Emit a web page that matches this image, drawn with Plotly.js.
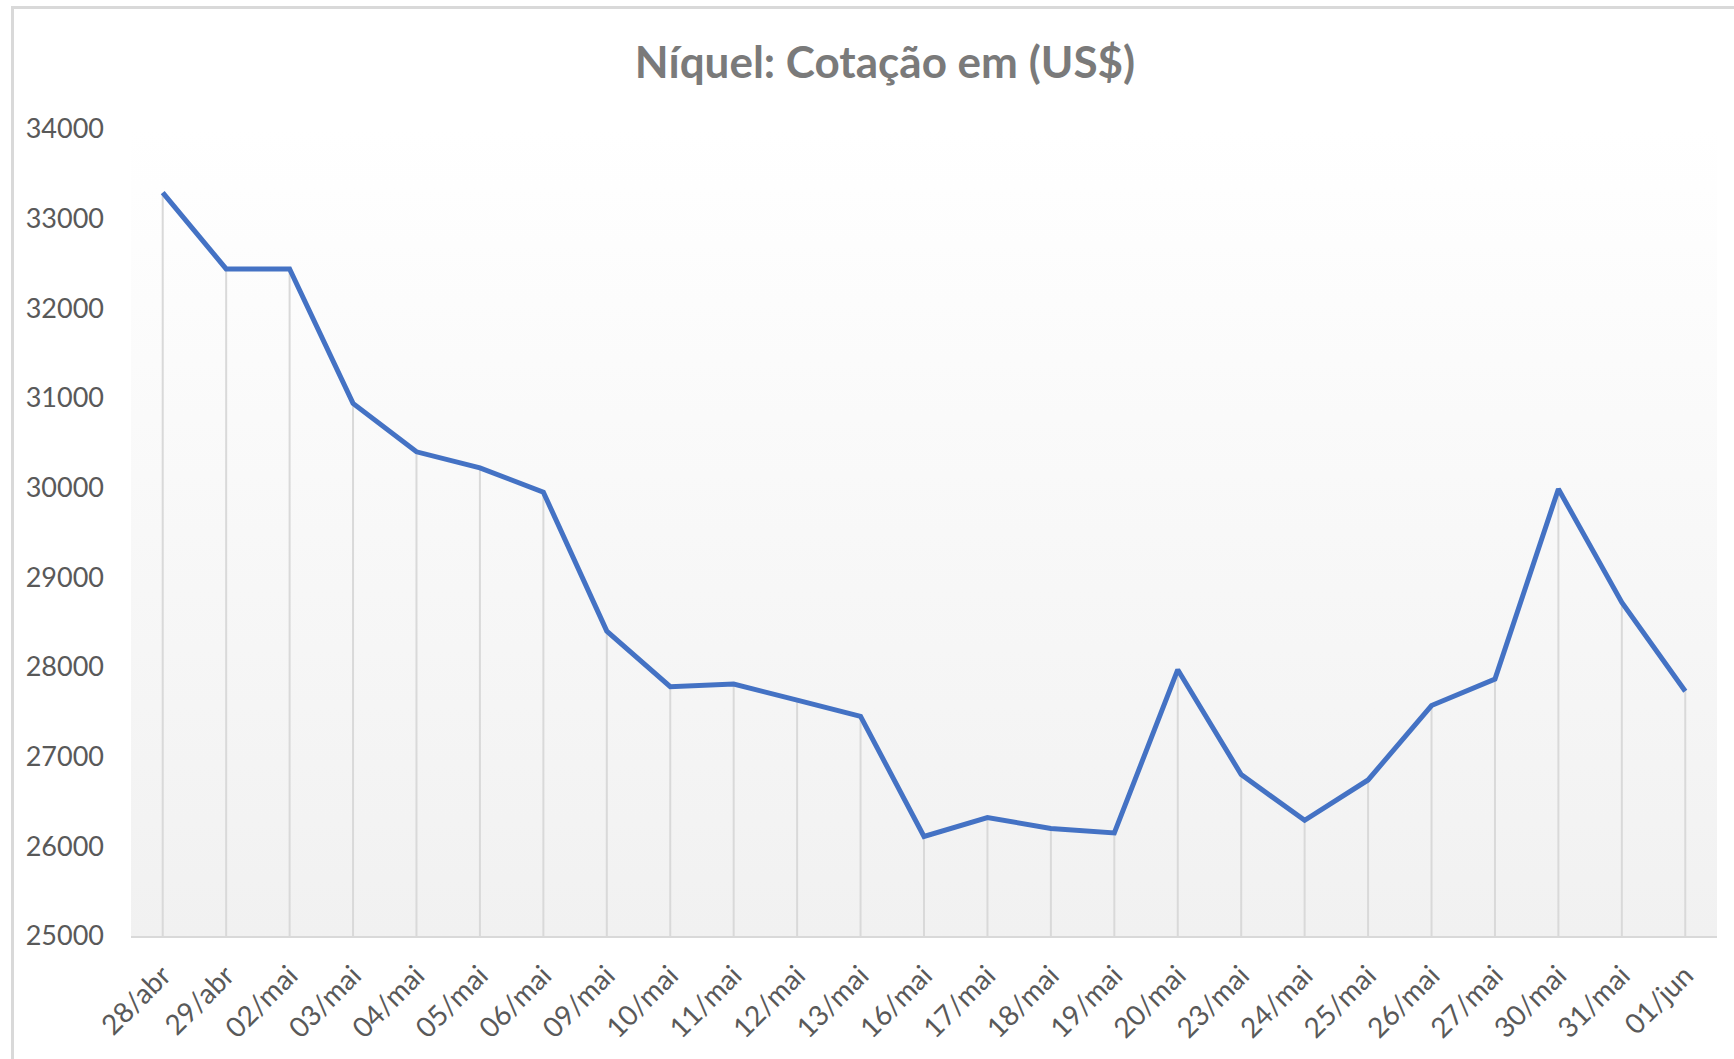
<!DOCTYPE html>
<html>
<head>
<meta charset="utf-8">
<script src="https://cdn.plot.ly/plotly-3.0.1.min.js"></script>
<style>
  html, body { margin: 0; padding: 0; background: #ffffff; overflow: hidden; }
  #chart { position: absolute; left: 0; top: 0; width: 1734px; height: 1059px; }
  .frame-left { position: absolute; left: 11px; top: 6px; width: 3px; height: 1060px; background: #d9d9d9; z-index: 5; }
  .frame-top { position: absolute; left: 11px; top: 6px; width: 1730px; height: 3px; background: #d9d9d9; z-index: 5; }
</style>
</head>
<body>
<div id="chart"></div>
<div class="frame-left"></div>
<div class="frame-top"></div>
<script>
// Data
const dates = ["28/abr","29/abr","02/mai","03/mai","04/mai","05/mai","06/mai","09/mai","10/mai","11/mai",
               "12/mai","13/mai","16/mai","17/mai","18/mai","19/mai","20/mai","23/mai","24/mai","25/mai",
               "26/mai","27/mai","30/mai","31/mai","01/jun"];
const prices = [33290, 32440, 32440, 30940, 30400, 30220, 29950, 28400, 27780, 27810,
                27630, 27450, 26110, 26320, 26200, 26150, 27970, 26800, 26290, 26740,
                27570, 27865, 29985, 28720, 27730];
const yTicks = [25000, 26000, 27000, 28000, 29000, 30000, 31000, 32000, 33000, 34000];
const yMin = 25000;
const yMax = 34000;
const chartTitle = "Níquel: Cotação em (US$)";

const dropDepth = prices.map(v => v - yMin);
const zeros = prices.map(() => 0);

const gradSvg = '<svg xmlns="http://www.w3.org/2000/svg" width="10" height="100" preserveAspectRatio="none">' +
  '<defs><linearGradient id="g" x1="0" y1="0" x2="0" y2="1">' +
  '<stop offset="0" stop-color="#ffffff"/><stop offset="1" stop-color="#f1f1f1"/>' +
  '</linearGradient></defs><rect x="0" y="0" width="10" height="100" fill="url(#g)"/></svg>';
const gradUri = 'data:image/svg+xml;charset=utf-8,' + encodeURIComponent(gradSvg);

const dropLines = {
  type: 'scatter',
  mode: 'markers',
  x: dates,
  y: prices,
  marker: { size: 1, color: 'rgba(0,0,0,0)' },
  error_y: {
    type: 'data', symmetric: false, array: zeros, arrayminus: dropDepth,
    width: 0, thickness: 2, color: '#d9d9d9'
  },
  hoverinfo: 'skip',
  showlegend: false
};

const priceLine = {
  type: 'scatter',
  mode: 'lines',
  x: dates,
  y: prices,
  line: { color: '#4472C4', width: 5, shape: 'linear' },
  showlegend: false
};

const layout = {
  width: 1734,
  height: 1059,
  margin: { l: 131, r: 17, t: 129, b: 123 },
  paper_bgcolor: '#ffffff',
  plot_bgcolor: 'rgba(0,0,0,0)',
  showlegend: false,
  font: { family: 'Lato, "Open Sans", sans-serif', color: '#595959' },
  title: {
    text: chartTitle,
    font: { family: 'Lato, "Open Sans", sans-serif', size: 44, color: '#7a7a7a', weight: 'bold' },
    xref: 'container', yref: 'container',
    x: 885 / 1734, xanchor: 'center',
    y: 1 - 63 / 1059, yanchor: 'middle'
  },
  xaxis: {
    type: 'category',
    categoryorder: 'array',
    categoryarray: dates,
    range: [-0.5, dates.length - 0.5],
    showgrid: false,
    zeroline: false,
    showline: true,
    linecolor: '#d9d9d9',
    linewidth: 2,
    ticks: '',
    tickangle: -45,
    ticklabelstandoff: 10,
    tickfont: { size: 28, color: '#595959' }
  },
  yaxis: {
    range: [yMin, yMax],
    tickvals: yTicks,
    tickformat: 'd',
    showgrid: false,
    zeroline: false,
    showline: false,
    ticks: '',
    ticklabelstandoff: 26,
    tickfont: { size: 27, color: '#595959' }
  },
  images: [{
    source: gradUri,
    xref: 'paper', yref: 'paper',
    x: 0, y: 1, sizex: 1, sizey: 1,
    xanchor: 'left', yanchor: 'top',
    sizing: 'stretch',
    layer: 'below'
  }]
};

Plotly.newPlot('chart', [dropLines, priceLine], layout, { staticPlot: true, displayModeBar: false });
</script>
</body>
</html>
